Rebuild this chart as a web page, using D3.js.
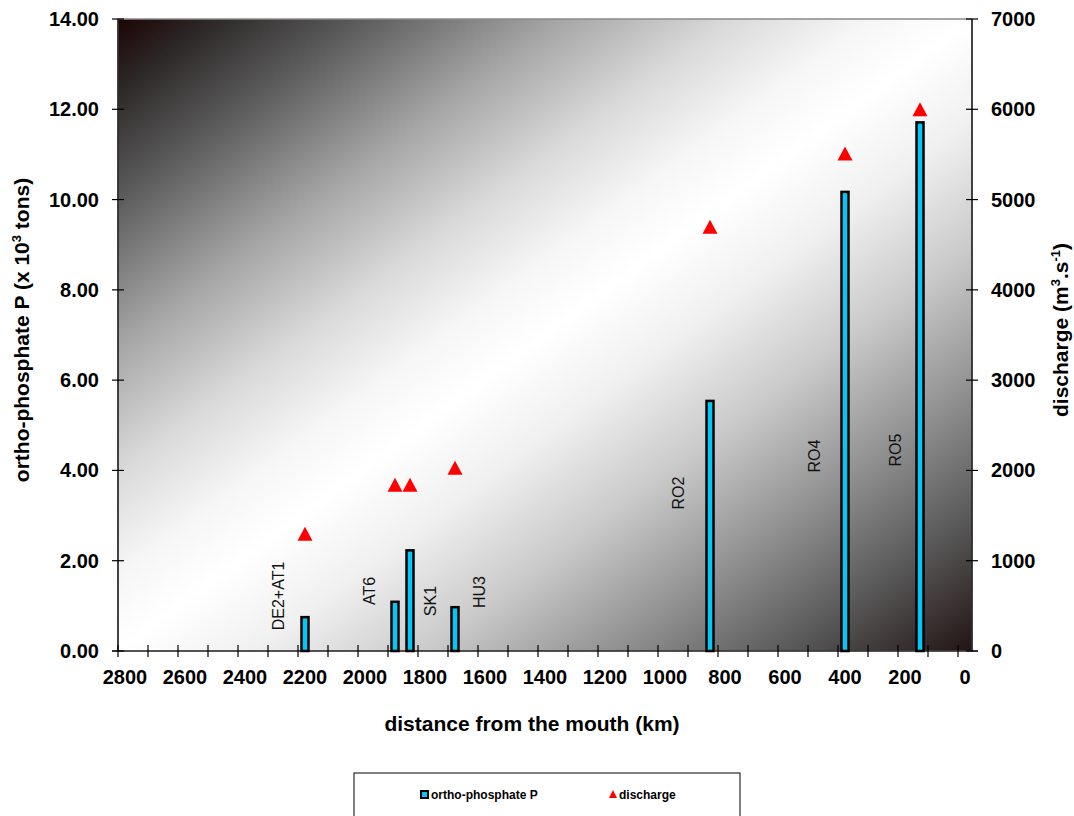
<!DOCTYPE html>
<html>
<head>
<meta charset="utf-8">
<script src="https://cdn.jsdelivr.net/npm/d3@7"></script>
<style>
  html, body { margin: 0; padding: 0; background: #fff; }
  text { font-family: "Liberation Sans", Arial, sans-serif; }
</style>
</head>
<body>
<svg id="chart" width="1074" height="816"></svg>
<script>
// Monitoring stations along the river
const stations = ["DE2+AT1", "AT6", "SK1", "HU3", "RO2", "RO4", "RO5"];
// Distance of each station from the mouth (km)
const distanceKm = [2200, 1900, 1850, 1700, 850, 400, 150];
// Ortho-phosphate P load (x 10^3 tons)
const orthoP = [0.75, 1.09, 2.23, 0.97, 5.54, 10.17, 11.71];
// Mean discharge (m3/s)
const discharge = [1300, 1840, 1840, 2030, 4700, 5510, 6000];

// Axis tick values
const xTicks = d3.range(2800, -1, -200);
const xMinorTicks = d3.range(2800, -1, -100);
const leftTicks = d3.range(0, 14.01, 2);
const rightTicks = d3.range(0, 7001, 1000);

const svg = d3.select("#chart");
const plot = { left: 118, right: 972, top: 19, bottom: 651 };

const x = d3.scaleLinear().domain([2800, 0]).range([125, 965]);
const yL = d3.scaleLinear().domain([0, 14]).range([plot.bottom, plot.top]);
const yR = d3.scaleLinear().domain([0, 7000]).range([plot.bottom, plot.top]);

// Plot area background: dark corners, light diagonal band
const defs = svg.append("defs");
const grad = defs.append("linearGradient")
  .attr("id", "bg").attr("x1", 0).attr("y1", 0).attr("x2", 1).attr("y2", 1);
[
  [0.00, "#1c0404"], [0.06, "#2e2a2a"], [0.15, "#606060"], [0.26, "#a6a6a6"],
  [0.36, "#dadada"], [0.44, "#f6f6f6"], [0.50, "#ffffff"], [0.58, "#f0f0f0"],
  [0.68, "#cacaca"], [0.78, "#969696"], [0.89, "#5a5a5a"], [1.00, "#221414"]
].forEach(([o, c]) => grad.append("stop").attr("offset", o).attr("stop-color", c));

svg.append("rect")
  .attr("x", plot.left).attr("y", plot.top)
  .attr("width", plot.right - plot.left).attr("height", plot.bottom - plot.top)
  .attr("fill", "url(#bg)")
  .attr("stroke", "#8a8a8a").attr("stroke-width", 1.5);

// Bars: ortho-phosphate P
const barW = 7;
svg.append("g").selectAll("rect")
  .data(stations.map((s, i) => ({ s, km: distanceKm[i], v: orthoP[i] })))
  .join("rect")
  .attr("x", d => x(d.km) - barW / 2)
  .attr("y", d => yL(d.v))
  .attr("width", barW)
  .attr("height", d => yL(0) - yL(d.v))
  .attr("fill", "#00c8f8")
  .attr("stroke", "#000")
  .attr("stroke-width", 2.5);

// Station labels, set beside each bar
const labelShift = [[-27, -55], [-26, -60], [20, -50], [24, -59], [-32, -158], [-31, -195], [-25, -201]];
svg.append("g").selectAll("text")
  .data(stations)
  .join("text")
  .attr("transform", (s, i) => `translate(${x(distanceKm[i]) + labelShift[i][0]},${yL(0) + labelShift[i][1]}) rotate(-90)`)
  .attr("text-anchor", "middle")
  .attr("dominant-baseline", "central")
  .attr("font-size", 16)
  .attr("fill", "#111")
  .text(s => s);

// Triangles: discharge
const tri = (cx, cy) => `M${cx},${cy - 7}L${cx + 7.5},${cy + 7}L${cx - 7.5},${cy + 7}Z`;
svg.append("g").selectAll("path")
  .data(discharge)
  .join("path")
  .attr("d", (v, i) => tri(x(distanceKm[i]), yR(v)))
  .attr("fill", "#ff0000");

// Axes
const axisColor = "#000";
const boldFont = 20;

// Left axis
const gL = svg.append("g");
gL.append("line").attr("x1", plot.left).attr("x2", plot.left)
  .attr("y1", plot.top).attr("y2", plot.bottom).attr("stroke", axisColor).attr("stroke-width", 1.2);
gL.selectAll("line.t").data(leftTicks).join("line").attr("class", "t")
  .attr("x1", plot.left - 6).attr("x2", plot.left + 6)
  .attr("y1", d => yL(d)).attr("y2", d => yL(d)).attr("stroke", axisColor).attr("stroke-width", 1.2);
gL.selectAll("text").data(leftTicks).join("text")
  .attr("x", 99).attr("y", d => yL(d)).attr("dy", "0.35em")
  .attr("text-anchor", "end").attr("font-size", boldFont).attr("font-weight", "bold")
  .text(d => d3.format(".2f")(d));

// Right axis
const gR = svg.append("g");
gR.append("line").attr("x1", plot.right).attr("x2", plot.right)
  .attr("y1", plot.top).attr("y2", plot.bottom).attr("stroke", axisColor).attr("stroke-width", 1.2);
gR.selectAll("line.t").data(rightTicks).join("line").attr("class", "t")
  .attr("x1", plot.right - 6).attr("x2", plot.right + 6)
  .attr("y1", d => yR(d)).attr("y2", d => yR(d)).attr("stroke", axisColor).attr("stroke-width", 1.2);
gR.selectAll("text").data(rightTicks).join("text")
  .attr("x", 991).attr("y", d => yR(d)).attr("dy", "0.35em")
  .attr("text-anchor", "start").attr("font-size", boldFont).attr("font-weight", "bold")
  .text(d => d);

// Bottom axis (tick marks sit a few pixels left of their labels)
const gB = svg.append("g");
gB.append("line").attr("x1", plot.left - 6).attr("x2", plot.right + 6)
  .attr("y1", plot.bottom).attr("y2", plot.bottom).attr("stroke", axisColor).attr("stroke-width", 1.2);
gB.selectAll("line.t").data(xMinorTicks).join("line").attr("class", "t")
  .attr("x1", d => x(d) - 7).attr("x2", d => x(d) - 7)
  .attr("y1", plot.bottom - 6).attr("y2", plot.bottom + 6).attr("stroke", axisColor).attr("stroke-width", 1.2);
gB.selectAll("text").data(xTicks).join("text")
  .attr("x", d => x(d)).attr("y", 677).attr("dy", "0.35em")
  .attr("text-anchor", "middle").attr("font-size", boldFont).attr("font-weight", "bold")
  .text(d => d);

// Axis titles
svg.append("text")
  .attr("x", 532).attr("y", 731)
  .attr("text-anchor", "middle").attr("font-size", 21).attr("font-weight", "bold")
  .text("distance from the mouth (km)");

const tL = svg.append("text")
  .attr("transform", "translate(29,330) rotate(-90)")
  .attr("text-anchor", "middle").attr("font-size", 21).attr("font-weight", "bold");
tL.append("tspan").text("ortho-phosphate P (x 10");
tL.append("tspan").attr("font-size", 13).attr("dy", -8).text("3");
tL.append("tspan").attr("dy", 8).text(" tons)");

const tR = svg.append("text")
  .attr("transform", "translate(1068,330) rotate(-90)")
  .attr("text-anchor", "middle").attr("font-size", 21).attr("font-weight", "bold");
tR.append("tspan").text("discharge (m");
tR.append("tspan").attr("font-size", 13).attr("dy", -8).text("3");
tR.append("tspan").attr("dy", 8).text(".s");
tR.append("tspan").attr("font-size", 13).attr("dy", -8).text("-1");
tR.append("tspan").attr("dy", 8).text(")");

// Legend
const lg = svg.append("g");
lg.append("rect").attr("x", 354).attr("y", 773).attr("width", 386).attr("height", 60)
  .attr("fill", "#fff").attr("stroke", "#000").attr("stroke-width", 1);
lg.append("rect").attr("x", 421).attr("y", 791).attr("width", 7).attr("height", 7)
  .attr("fill", "#00c8f8").attr("stroke", "#000").attr("stroke-width", 2);
lg.append("text").attr("x", 431).attr("y", 795).attr("dy", "0.35em")
  .attr("font-size", 12).attr("font-weight", "bold").text("ortho-phosphate P");
lg.append("path").attr("d", `M613,790L617,798L609,798Z`).attr("fill", "#ff0000");
lg.append("text").attr("x", 619).attr("y", 795).attr("dy", "0.35em")
  .attr("font-size", 12).attr("font-weight", "bold").text("discharge");
</script>
</body>
</html>
